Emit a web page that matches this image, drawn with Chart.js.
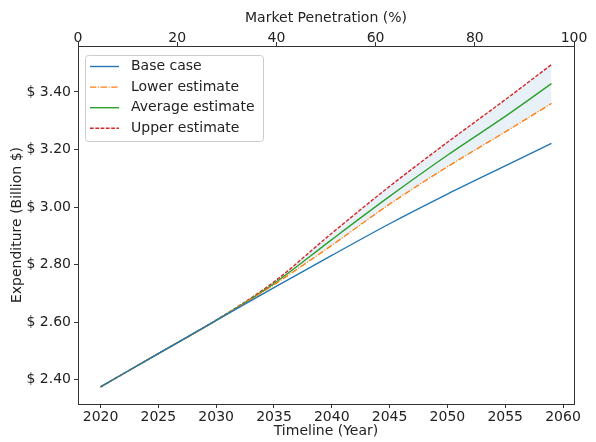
<!DOCTYPE html>
<html lang="en">

<head>
    <meta charset="UTF-8">
    <title>Expenditure vs Timeline</title>
    <script src="https://cdn.jsdelivr.net/npm/chart.js"></script>
    <style>
        body { margin: 0; background: #fff; }
        #wrap { width: 596px; height: 442px; }
    </style>
</head>

<body>
    <div id="wrap"><canvas id="myChart"></canvas></div>

    <script>
        // DATA
        const years = [2020, 2025, 2030, 2035, 2040, 2045, 2050, 2055, 2059];
        const baseCase = [2.375, 2.491, 2.606, 2.720, 2.832, 2.942, 3.045, 3.143, 3.221];
        const lowerEst = [2.375, 2.491, 2.606, 2.730, 2.867, 3.010, 3.140, 3.261, 3.360];
        const averageEst = [2.375, 2.491, 2.606, 2.734, 2.887, 3.037, 3.180, 3.315, 3.429];
        const upperEst = [2.375, 2.491, 2.607, 2.740, 2.909, 3.072, 3.225, 3.373, 3.495];

        // tick labels
        const yearTicks = [2020, 2025, 2030, 2035, 2040, 2045, 2050, 2055, 2060];
        const penetrationTicks = [0, 20, 40, 60, 80, 100];
        const expenditureTicks = [2.40, 2.60, 2.80, 3.00, 3.20, 3.40];

        const font = { family: 'DejaVu Sans', size: 14 };
        const textColor = '#222';
        const spine = '#333';

        function pts(vals) {
            return years.map((y, i) => ({ x: y, y: vals[i] }));
        }

        function line(label, vals, color, dash) {
            return {
                label: label,
                data: pts(vals),
                borderColor: color,
                backgroundColor: color,
                borderWidth: 1.4,
                borderDash: dash,
                pointRadius: 0,
                cubicInterpolationMode: 'monotone',
                fill: false
            };
        }

        const datasets = [
            line('Base case', baseCase, '#1f77b4', []),
            line('Lower estimate', lowerEst, '#ff7f0e', [6.4, 1.6, 1, 1.6]),
            line('Average estimate', averageEst, '#2ca02c', []),
            line('Upper estimate', upperEst, '#d62728', [3.7, 1.6])
        ];
        // shaded band between lower and upper
        datasets[3].fill = 1;
        datasets[3].backgroundColor = 'rgba(31, 119, 180, 0.1)';

        // right spine + legend drawn inside plot
        const framePlugin = {
            id: 'frame',
            afterDraw(chart) {
                const ctx = chart.ctx;
                const a = chart.chartArea;
                ctx.save();
                ctx.strokeStyle = spine;
                ctx.lineWidth = 1;
                ctx.beginPath();
                ctx.moveTo(a.right + 0.5, a.top);
                ctx.lineTo(a.right + 0.5, a.bottom);
                ctx.stroke();

                // legend
                const x0 = a.left + 7, y0 = a.top + 9;
                const w = 178, h = 86;
                ctx.fillStyle = 'rgba(255,255,255,0.8)';
                ctx.strokeStyle = '#cccccc';
                ctx.beginPath();
                ctx.roundRect(x0 + 0.5, y0 + 0.5, w, h, 3);
                ctx.fill();
                ctx.stroke();
                ctx.font = font.size + 'px ' + font.family;
                ctx.textBaseline = 'middle';
                chart.data.datasets.forEach((ds, i) => {
                    const yy = y0 + 11.5 + i * 20.6;
                    ctx.strokeStyle = ds.borderColor;
                    ctx.lineWidth = 1.4;
                    ctx.setLineDash(ds.borderDash);
                    ctx.beginPath();
                    ctx.moveTo(x0 + 5, yy);
                    ctx.lineTo(x0 + 34, yy);
                    ctx.stroke();
                    ctx.setLineDash([]);
                    ctx.fillStyle = textColor;
                    ctx.fillText(ds.label, x0 + 46, yy);
                });
                ctx.restore();
            }
        };

        const tickGrid = { display: true, drawOnChartArea: false, drawTicks: true, tickLength: 4, color: spine };

        const config = {
            type: 'line',
            data: { datasets: datasets },
            options: {
                responsive: true,
                maintainAspectRatio: false,
                animation: false,
                layout: { padding: { left: 0, right: 22, top: 0, bottom: 0 } },
                plugins: {
                    legend: { display: false },
                    tooltip: { enabled: false }
                },
                scales: {
                    x: {
                        type: 'linear',
                        position: 'bottom',
                        min: 2018.05,
                        max: 2060.95,
                        afterBuildTicks: s => { s.ticks = yearTicks.map(v => ({ value: v })); },
                        afterFit: s => { s.height = 38; },
                        grid: tickGrid,
                        border: { color: spine, width: 1 },
                        ticks: { font: font, color: textColor, padding: 1, maxRotation: 0, autoSkip: false,
                                 callback: v => String(v) },
                        title: { display: true, text: 'Timeline (Year)', font: font, color: textColor,
                                 padding: { top: 0, bottom: 2 } }
                    },
                    x2: {
                        type: 'linear',
                        position: 'top',
                        min: 0,
                        max: 100,
                        afterBuildTicks: s => { s.ticks = penetrationTicks.map(v => ({ value: v })); },
                        afterFit: s => { s.height = 46; },
                        grid: tickGrid,
                        border: { color: spine, width: 1 },
                        ticks: { font: font, color: textColor, padding: -5, maxRotation: 0, autoSkip: false },
                        title: { display: true, text: 'Market Penetration (%)', font: font, color: textColor,
                                 padding: { top: 10, bottom: 0 } }
                    },
                    y: {
                        type: 'linear',
                        position: 'left',
                        min: 2.3156,
                        max: 3.5597,
                        afterBuildTicks: s => { s.ticks = expenditureTicks.map(v => ({ value: v })); },
                        afterFit: s => { s.width = 78; },
                        grid: tickGrid,
                        border: { color: spine, width: 1 },
                        ticks: { font: font, color: textColor, padding: 3, callback: v => '$ ' + v.toFixed(2) },
                        title: { display: true, text: 'Expenditure (Billion $)', font: font, color: textColor,
                                 padding: { top: 8.5, bottom: 0 } }
                    }
                }
            },
            plugins: [framePlugin]
        };

        const myChart = new Chart(document.getElementById('myChart'), config);
    </script>

</body>

</html>
